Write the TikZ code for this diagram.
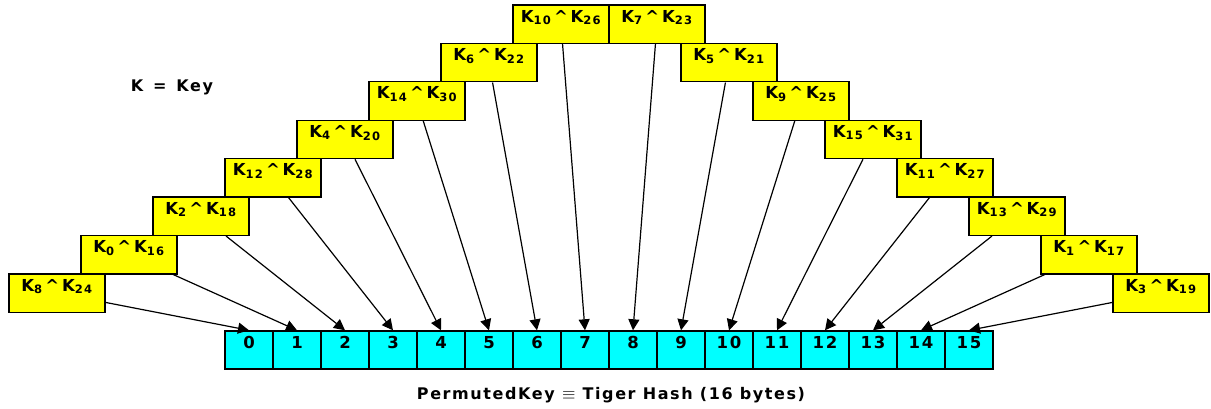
\documentclass[tikz,border=0pt]{standalone}
\usepackage{fontspec}
\setmainfont{DejaVu Sans}[LetterSpace=10]
\usetikzlibrary{arrows.meta}
\definecolor{keyyellow}{RGB}{255,255,0}
\definecolor{bytecyan}{RGB}{0,255,255}
\newcommand{\kk}[2]{K\textsubscript{#1}\,\textasciicircum\,K\textsubscript{#2}}
\tikzset{
  keybox/.style={draw=black, line width=1.4pt, fill=keyyellow, minimum width=96pt,
    minimum height=38.4pt, inner sep=0pt, text height=10pt, text depth=14pt,
    font=\fontsize{16.5}{19}\selectfont\bfseries},
  cell/.style={draw=black, line width=1.4pt, fill=bytecyan, minimum width=48pt,
    minimum height=38pt, inner sep=0pt, text height=10pt, text depth=14pt,
    font=\fontsize{16.5}{19}\selectfont\bfseries},
  lbl/.style={font=\fontsize{16}{19}\selectfont\bfseries},
}
\begin{document}
\begin{tikzpicture}[x=1pt, y=1pt]
      \useasboundingbox (0,0) rectangle (1211,408);
      % hash bytes
      \draw
        (249,58) node[cell] (c0){0}
        (297,58) node[cell] (c1){1}
        (345,58) node[cell] (c2){2}
        (393,58) node[cell] (c3){3}
        (441,58) node[cell] (c4){4}
        (489,58) node[cell] (c5){5}
        (537,58) node[cell] (c6){6}
        (585,58) node[cell] (c7){7}
        (633,58) node[cell] (c8){8}
        (681,58) node[cell] (c9){9}
        (729,58) node[cell] (c10){10}
        (777,58) node[cell] (c11){11}
        (825,58) node[cell] (c12){12}
        (873,58) node[cell] (c13){13}
        (921,58) node[cell] (c14){14}
        (969,58) node[cell] (c15){15};
      % key pairs
      \draw
        (57,115) node[keybox] (k8){\kk{8}{24}}
        (129,153.4) node[keybox] (k0){\kk{0}{16}}
        (201,191.8) node[keybox] (k2){\kk{2}{18}}
        (273,230.2) node[keybox] (k12){\kk{12}{28}}
        (345,268.6) node[keybox] (k4){\kk{4}{20}}
        (417,307) node[keybox] (k14){\kk{14}{30}}
        (489,345.4) node[keybox] (k6){\kk{6}{22}}
        (561,383.8) node[keybox] (k10){\kk{10}{26}}
        (657,383.8) node[keybox] (k7){\kk{7}{23}}
        (729,345.4) node[keybox] (k5){\kk{5}{21}}
        (801,307) node[keybox] (k9){\kk{9}{25}}
        (873,268.6) node[keybox] (k15){\kk{15}{31}}
        (945,230.2) node[keybox] (k11){\kk{11}{27}}
        (1017,191.8) node[keybox] (k13){\kk{13}{29}}
        (1089,153.4) node[keybox] (k1){\kk{1}{17}}
        (1161,115) node[keybox] (k3){\kk{3}{19}};
      \node[lbl] (key) at (172,321) {K\ \,=\ \,Key};
      \node[lbl] (perm) at (611,13) {PermutedKey \(\equiv\) Tiger Hash (16 bytes)};
      \begin{scope}[line width=1.2pt, -{Triangle[length=11pt, width=11pt]}]
        \draw (k8) to (c0.north);
        \draw (k0) to (c1.north);
        \draw (k2) to (c2.north);
        \draw (k12) to (c3.north);
        \draw (k4) to (c4.north);
        \draw (k14) to (c5.north);
        \draw (k6) to (c6.north);
        \draw (k10) to (c7.north);
        \draw (k7) to (c8.north);
        \draw (k5) to (c9.north);
        \draw (k9) to (c10.north);
        \draw (k15) to (c11.north);
        \draw (k11) to (c12.north);
        \draw (k13) to (c13.north);
        \draw (k1) to (c14.north);
        \draw (k3) to (c15.north);
      \end{scope}
    \end{tikzpicture}
\end{document}
